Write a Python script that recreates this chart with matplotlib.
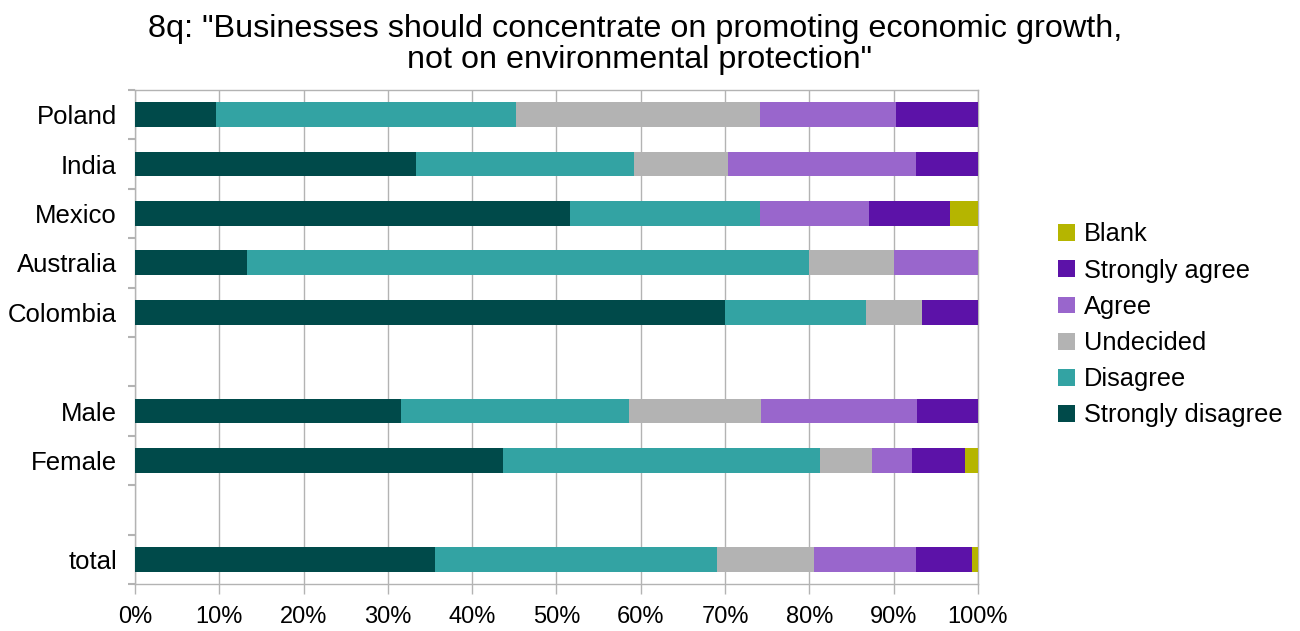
import matplotlib
matplotlib.use("Agg")
import matplotlib.pyplot as plt
from matplotlib.ticker import FixedLocator, PercentFormatter
from matplotlib.patches import Patch

plt.rcParams['font.family'] = ['Liberation Sans', 'DejaVu Sans']

# Rows from top to bottom; empty strings are spacer rows
categories = ["Poland", "India", "Mexico", "Australia", "Colombia", "",
              "Male", "Female", "", "total"]

series_names = ["Strongly disagree", "Disagree", "Undecided", "Agree",
                "Strongly agree", "Blank"]

strongly_disagree = [9.6, 33.3, 51.6, 13.3, 70.0, 0, 31.5, 43.6, 0, 35.6]
disagree          = [35.6, 25.9, 22.5, 66.7, 16.7, 0, 27.1, 37.7, 0, 33.5]
undecided         = [28.9, 11.2, 0.0, 10.0, 6.6, 0, 15.7, 6.1, 0, 11.5]
agree             = [16.2, 22.2, 13.0, 10.0, 0.0, 0, 18.5, 4.8, 0, 12.1]
strongly_agree    = [9.7, 7.4, 9.6, 0.0, 6.7, 0, 7.2, 6.2, 0, 6.6]
blank             = [0.0, 0.0, 3.3, 0.0, 0.0, 0, 0.0, 1.6, 0, 0.7]

series_values = [strongly_disagree, disagree, undecided, agree,
                 strongly_agree, blank]
colors = ["#004a4a", "#33a3a3", "#b3b3b3", "#9966cc", "#5c12a8", "#b5b500"]

x_ticks = [0, 10, 20, 30, 40, 50, 60, 70, 80, 90, 100]

title_lines = ['8q: "Businesses should concentrate on promoting economic growth,',
               'not on environmental protection"']

fig = plt.figure(figsize=(13.0, 6.31), dpi=100)
ax = fig.add_axes([0.1038, 0.0745, 0.6485, 0.783])

ypos = list(range(len(categories)))
left = [0.0] * len(categories)
for name, vals, col in zip(series_names, series_values, colors):
    ax.barh(ypos, vals, left=left, height=0.5, color=col, label=name,
            zorder=3, linewidth=0)
    left = [l + v for l, v in zip(left, vals)]

ax.set_xlim(0, 100)
ax.set_ylim(len(categories) - 0.5, -0.5)

grey = "#b3b3b3"
ax.set_xticks(x_ticks)
ax.xaxis.set_major_formatter(PercentFormatter(decimals=0))
ax.grid(axis="x", color=grey, linewidth=1.0, zorder=0)
ax.tick_params(axis="x", direction="out", length=7.5, width=1.0, color=grey,
               labelsize=17, pad=8)

# Category labels on the row centres, short ticks on the row boundaries
ax.set_yticks(ypos)
ax.set_yticklabels(categories)
ax.yaxis.set_minor_locator(FixedLocator([i - 0.5 for i in range(len(categories) + 1)]))
ax.tick_params(axis="y", which="major", length=0, labelsize=18.5, pad=13)
ax.tick_params(axis="y", which="minor", direction="out", length=5, width=1.5,
               color=grey)

for sp in ax.spines.values():
    sp.set_color(grey)
    sp.set_linewidth(1.0)

# Two-line title, each line placed on its own baseline
fig.text(0.4885, 1 - 37 / 631, title_lines[0], ha="center", va="baseline",
         fontsize=23.3)
fig.text(0.492, 1 - 68 / 631, title_lines[1], ha="center", va="baseline",
         fontsize=23.3)

handles = [Patch(facecolor=c, label=n) for n, c in zip(series_names, colors)]
fig.legend(handles=handles[::-1], loc="center left",
           bbox_to_anchor=(0.7965, 0.485), frameon=False, fontsize=18.3,
           handlelength=0.64, handleheight=0.64, handletextpad=0.36,
           labelspacing=0.48)

fig.savefig("out.png", dpi=100)
